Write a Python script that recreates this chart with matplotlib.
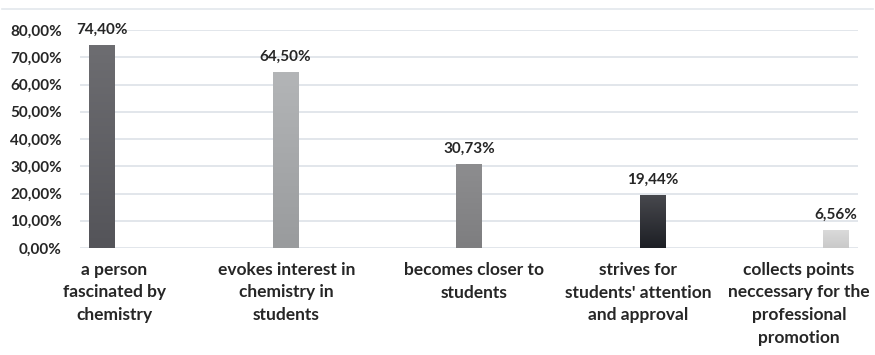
import numpy as np
import matplotlib
matplotlib.use('Agg')
import matplotlib.pyplot as plt
import matplotlib.transforms as mtransforms
from matplotlib.colors import LinearSegmentedColormap

# data
categories = ['a person\nfascinated by\nchemistry',
              'evokes interest in\nchemistry in\nstudents',
              'becomes closer to\nstudents',
              'strives for\nstudents\' attention\nand approval',
              'collects points\nneccessary for the\nprofessional\npromotion']
values = [74.40, 64.50, 30.73, 19.44, 6.56]
labels = ['74,40%', '64,50%', '30,73%', '19,44%', '6,56%']
yticks = [0, 10, 20, 30, 40, 50, 60, 70, 80]

# gradient colours per bar (top, bottom)
grads = [('#6d6d71', '#545459'),
         ('#b3b5b7', '#999b9d'),
         ('#8d8d8f', '#7e7e80'),
         ('#47484d', '#1d1f25'),
         ('#dadada', '#c9c9c9')]
# horizontal nudges (px) of category labels, as in the original layout
label_shift = [12, 1, 5, -14, -37]

plt.rcParams['font.family'] = ['Lato', 'DejaVu Sans']

fig = plt.figure(figsize=(8.75, 3.55), dpi=100)
ax = fig.add_axes([80/875, 1-248/355, 778/875, (248-30)/355])

x = np.arange(len(values))
bars = ax.bar(x, values, width=0.14, color='none', zorder=3)
for b, (top, bot) in zip(bars, grads):
    cmap = LinearSegmentedColormap.from_list('g', [bot, top])
    grad = np.linspace(0, 1, 100).reshape(-1, 1)
    x0, y0 = b.get_x(), b.get_y()
    im = ax.imshow(grad, cmap=cmap, aspect='auto', origin='lower',
                   extent=[x0, x0 + b.get_width(), y0, y0 + b.get_height()], zorder=3)
    im.set_clip_path(b)

for xi, v, lab in zip(x, values, labels):
    ax.text(xi, v + 3.2, lab, ha='center', va='bottom', fontsize=11,
            fontweight='bold', color='#262626', zorder=4)

# category labels below the axis, nudged like the original
for xi, cat, dx in zip(x, categories, label_shift):
    tr = ax.get_xaxis_transform() + mtransforms.ScaledTranslation(dx/100, -0.14, fig.dpi_scale_trans)
    ax.text(xi, 0, cat, transform=tr, ha='center', va='top', fontsize=12.5,
            fontweight='bold', color='#262626', linespacing=1.5, clip_on=False)

ax.set_xlim(-0.12, 4.12)
ax.set_ylim(0, 80)
ax.set_yticks(yticks)
ax.set_yticklabels(['%d,00%%' % t for t in yticks], fontsize=11, fontweight='bold', color='#262626')
ax.set_xticks([])
ax.tick_params(axis='both', length=0)
ax.tick_params(axis='y', pad=13)
ax.grid(axis='y', color='#dde2e8', linewidth=1.2, zorder=0)
ax.set_axisbelow(True)
for s in ax.spines.values():
    s.set_visible(False)

# top border line of the chart frame
fig.add_artist(plt.Line2D([2/875, 873/875], [1-9/355, 1-9/355], color='#e3e7ec', linewidth=1.2))

fig.savefig('out.png', dpi=100)
